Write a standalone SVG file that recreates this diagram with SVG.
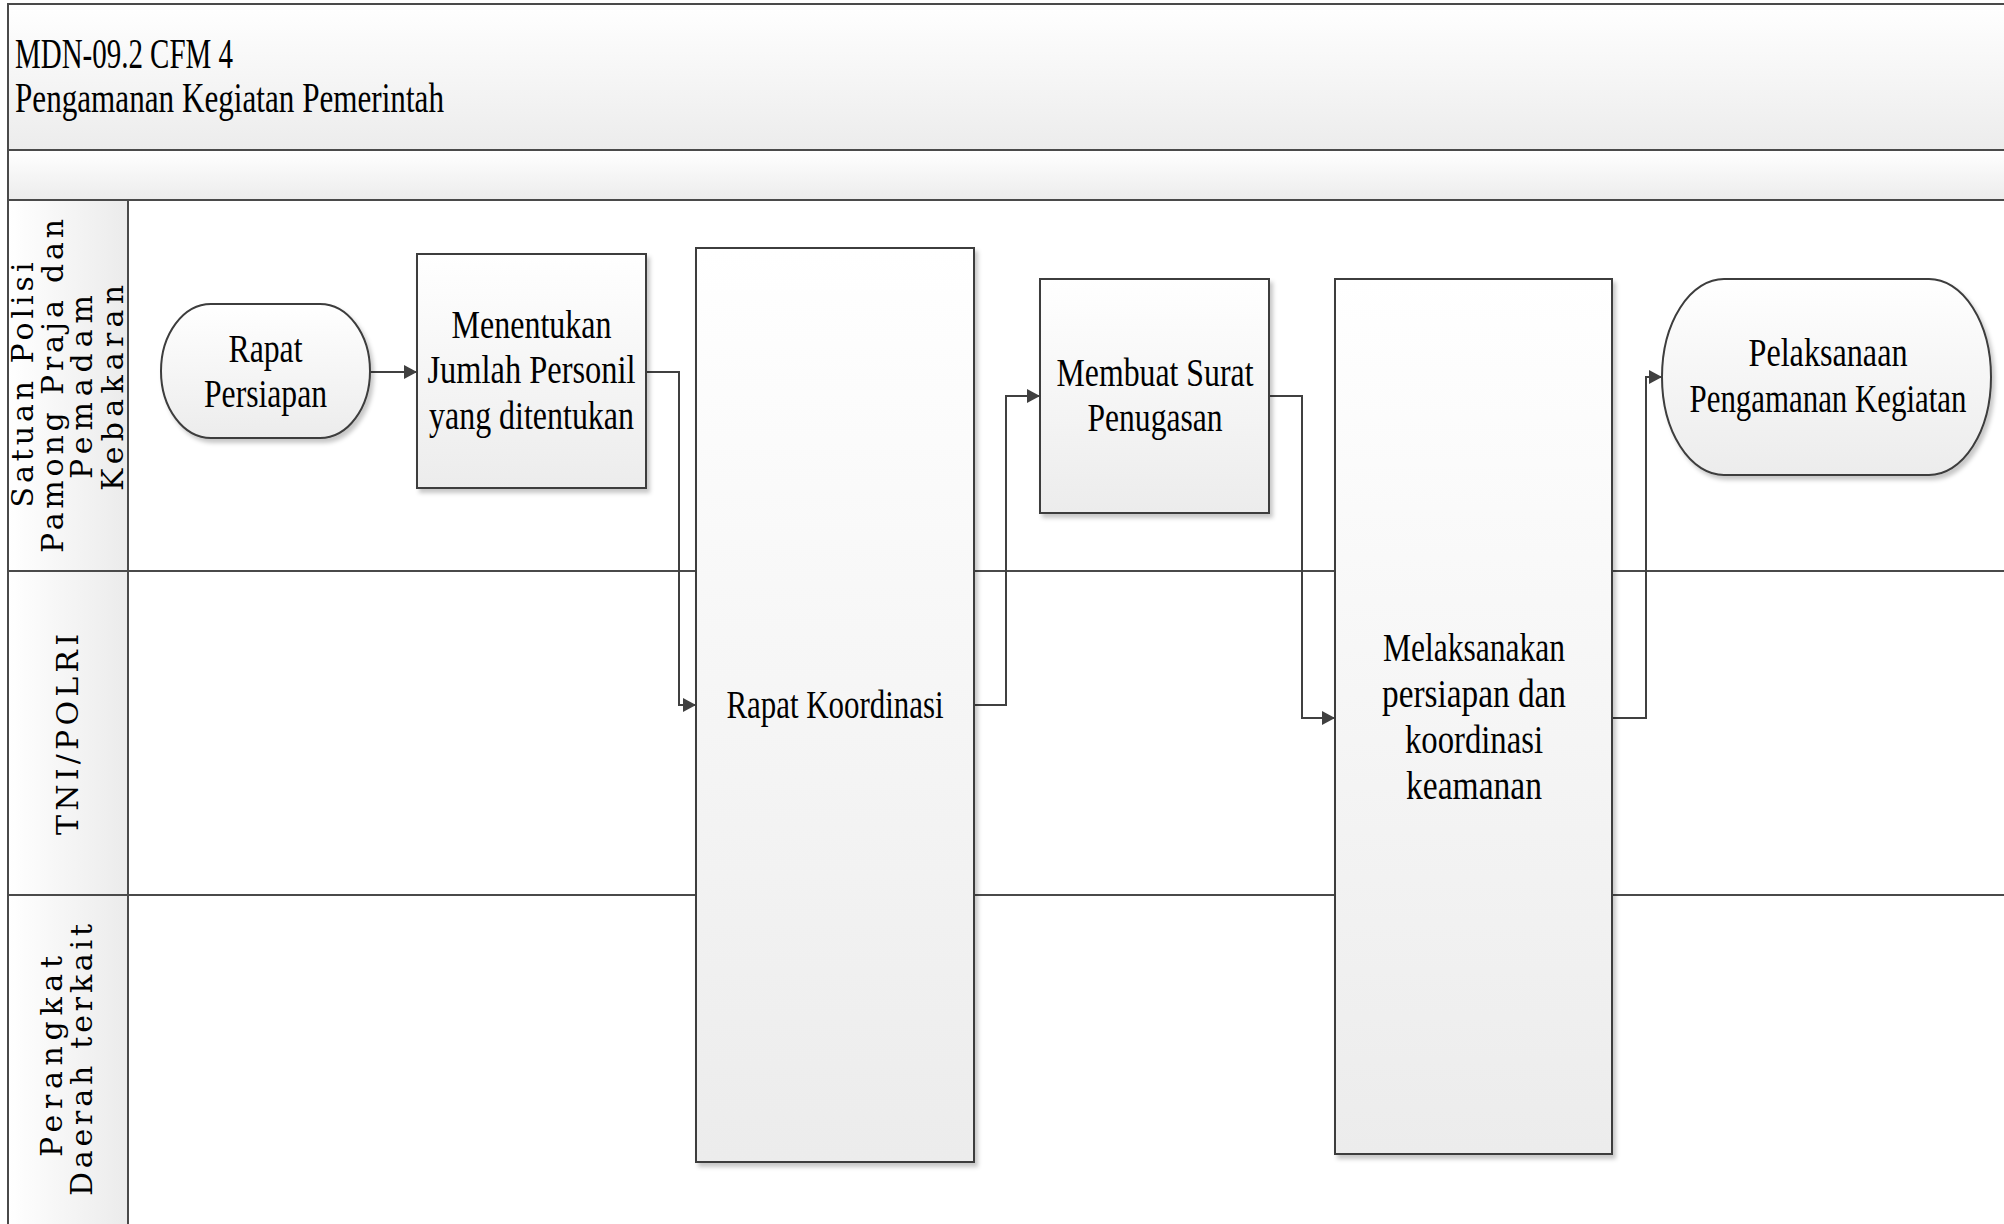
<svg xmlns="http://www.w3.org/2000/svg" width="2004" height="1224" viewBox="0 0 2004 1224">
<style>
.frame{fill:none;stroke:#4a4a4a;stroke-width:2}
.node{stroke:#3c3c3c;stroke-width:2;fill:url(#gv)}
.nt{font-family:"Liberation Serif","Times New Roman",serif;font-size:40px;fill:#000;text-anchor:middle}
.tt{font-family:"Liberation Serif","Times New Roman",serif;font-size:42px;fill:#000}
.lt{font-family:"DejaVu Serif","Liberation Serif",serif;font-size:30px;fill:#000;text-anchor:middle}
.conn{fill:none;stroke:#404040;stroke-width:2}
</style>
<defs>
<linearGradient id="gv" x1="0" y1="0" x2="0" y2="1"><stop offset="0" stop-color="#ffffff"/><stop offset="1" stop-color="#ececec"/></linearGradient>
<linearGradient id="gh" x1="0" y1="0" x2="1" y2="0"><stop offset="0" stop-color="#ffffff"/><stop offset="1" stop-color="#ebebeb"/></linearGradient>
<filter id="sh" x="-10%" y="-10%" width="125%" height="125%"><feDropShadow dx="3" dy="4" stdDeviation="2" flood-color="#000" flood-opacity="0.22"/></filter>
<marker id="arr" markerUnits="userSpaceOnUse" markerWidth="14" markerHeight="16" refX="13" refY="8" orient="auto"><path d="M0,1 L13,8 L0,15 z" fill="#404040"/></marker>
</defs>
<rect width="2004" height="1224" fill="#fff"/>
<g id="pool">
<rect x="8" y="4" width="2010" height="146" fill="url(#gv)"/>
<rect x="8" y="150" width="2010" height="50" fill="url(#gv)"/>
<rect x="8" y="200" width="120" height="1040" fill="url(#gh)"/>
<path class="frame" d="M2010,4 H8 V1230 M8,150 H2010 M8,200 H2010 M128,200 V1230 M8,571 H2010 M8,895 H2010"/>
<text class="tt" x="15" y="68" textLength="218" lengthAdjust="spacingAndGlyphs">MDN-09.2 CFM 4</text>
<text class="tt" x="15" y="112" textLength="429" lengthAdjust="spacingAndGlyphs">Pengamanan Kegiatan Pemerintah</text>
</g>
<g id="lane1-label" transform="rotate(-90)">
<text class="lt" x="-385" y="33" textLength="245" lengthAdjust="spacing">Satuan Polisi</text>
<text class="lt" x="-386" y="62.5" textLength="334" lengthAdjust="spacing">Pamong Praja dan</text>
<text class="lt" x="-387" y="92" textLength="184" lengthAdjust="spacing">Pemadam</text>
<text class="lt" x="-388" y="122.5" textLength="206" lengthAdjust="spacing">Kebakaran</text>
</g>
<g id="lane2-label" transform="rotate(-90)">
<text class="lt" x="-734.5" y="78" textLength="201" lengthAdjust="spacing">TNI/POLRI</text>
</g>
<g id="lane3-label" transform="rotate(-90)">
<text class="lt" x="-1056.5" y="62" textLength="201" lengthAdjust="spacing">Perangkat</text>
<text class="lt" x="-1060" y="92" textLength="272" lengthAdjust="spacing">Daerah terkait</text>
</g>
<g id="connectors">
<path class="conn" d="M370,372 H417" marker-end="url(#arr)"/>
<path class="conn" d="M646,372 H679 V705 H696" marker-end="url(#arr)"/>
<path class="conn" d="M974,705 H1006 V396 H1040" marker-end="url(#arr)"/>
<path class="conn" d="M1269,396 H1302 V718 H1335" marker-end="url(#arr)"/>
<path class="conn" d="M1612,718 H1646 V377 H1662" marker-end="url(#arr)"/>
</g>
<g id="n1">
<rect class="node" x="161" y="304" width="209" height="134" rx="50" ry="67" filter="url(#sh)"/>
<text class="nt" x="265.5" y="362" textLength="74" lengthAdjust="spacingAndGlyphs">Rapat</text>
<text class="nt" x="265.5" y="407" textLength="123" lengthAdjust="spacingAndGlyphs">Persiapan</text>
</g>
<g id="n2">
<rect class="node" x="417" y="254" width="229" height="234" filter="url(#sh)"/>
<text class="nt" x="531.5" y="338" textLength="160" lengthAdjust="spacingAndGlyphs">Menentukan</text>
<text class="nt" x="531.5" y="383" textLength="208" lengthAdjust="spacingAndGlyphs">Jumlah Personil</text>
<text class="nt" x="531.5" y="429" textLength="205" lengthAdjust="spacingAndGlyphs">yang ditentukan</text>
</g>
<g id="n3">
<rect class="node" x="696" y="248" width="278" height="914" filter="url(#sh)"/>
<text class="nt" x="835" y="718" textLength="217" lengthAdjust="spacingAndGlyphs">Rapat Koordinasi</text>
</g>
<g id="n4">
<rect class="node" x="1040" y="279" width="229" height="234" filter="url(#sh)"/>
<text class="nt" x="1155" y="386" textLength="197" lengthAdjust="spacingAndGlyphs">Membuat Surat</text>
<text class="nt" x="1155" y="431" textLength="135" lengthAdjust="spacingAndGlyphs">Penugasan</text>
</g>
<g id="n5">
<rect class="node" x="1335" y="279" width="277" height="875" filter="url(#sh)"/>
<text class="nt" x="1474" y="661" textLength="182" lengthAdjust="spacingAndGlyphs">Melaksanakan</text>
<text class="nt" x="1474" y="707" textLength="184" lengthAdjust="spacingAndGlyphs">persiapan dan</text>
<text class="nt" x="1474" y="753" textLength="138" lengthAdjust="spacingAndGlyphs">koordinasi</text>
<text class="nt" x="1474" y="799" textLength="136" lengthAdjust="spacingAndGlyphs">keamanan</text>
</g>
<g id="n6">
<rect class="node" x="1662" y="279" width="329" height="196" rx="62" ry="98" filter="url(#sh)"/>
<text class="nt" x="1828" y="366" textLength="159" lengthAdjust="spacingAndGlyphs">Pelaksanaan</text>
<text class="nt" x="1828" y="412" textLength="277" lengthAdjust="spacingAndGlyphs">Pengamanan Kegiatan</text>
</g>
</svg>
